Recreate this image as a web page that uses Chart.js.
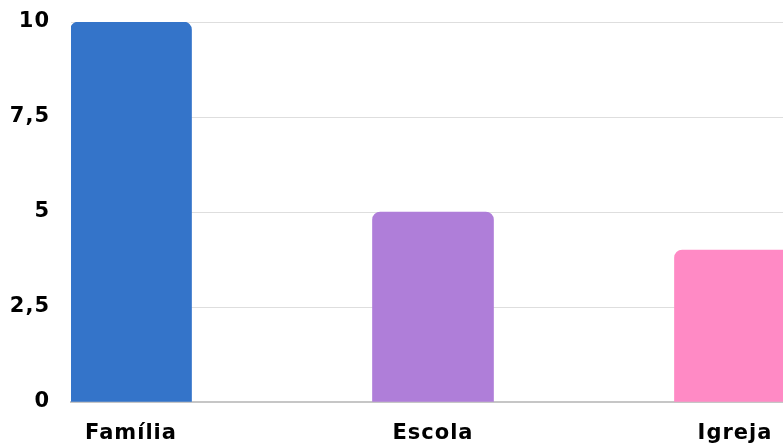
<!DOCTYPE html>
<html>
<head>
<meta charset="utf-8">
<script src="https://cdn.jsdelivr.net/npm/chart.js@4"></script>
<style>
  html, body { margin: 0; padding: 0; background: #ffffff; overflow: hidden; }
  #wrap { width: 783px; height: 447px; position: relative; }
</style>
</head>
<body>
<div id="wrap"><canvas id="grafico"></canvas></div>
<script>
// dados do gráfico
const categorias = ["Família", "Escola", "Igreja"];
const valores = [10, 5, 4];
const cores = ["#3474c9", "#af7ed9", "#ff8ac5"];
const ticksY = [0, 2.5, 5, 7.5, 10];

const fonte = { family: "'DejaVu Sans', sans-serif", size: 21, weight: "bold" };

const pontos = valores.map((v, i) => ({ x: i, y: v }));

// letras um pouco mais espaçadas, como no original
const espacamento = {
  id: "espacamento",
  beforeUpdate: (chart) => { chart.ctx.letterSpacing = "1px"; },
  beforeDraw: (chart) => { chart.ctx.letterSpacing = "1px"; },
};

const grafico = new Chart(document.getElementById("grafico"), {
  type: "bar",
  data: {
    datasets: [
      {
        data: pontos,
        backgroundColor: cores,
        borderWidth: 0,
        borderRadius: 8,
        barThickness: 121,
      },
    ],
  },
  plugins: [espacamento],
  options: {
    responsive: true,
    maintainAspectRatio: false,
    animation: false,
    layout: { padding: { top: 22, left: 0, right: 0, bottom: 0 } },
    plugins: { legend: { display: false }, tooltip: { enabled: false } },
    scales: {
      x: {
        type: "linear",
        offset: false,
        min: -0.1987,
        max: 2.159,
        grid: { display: false, drawTicks: false, offset: false },
        border: { display: true, color: "#c6c6c6", width: 2 },
        afterFit: (s) => { s.height = 45; s.paddingLeft = 0; s.paddingRight = 0; },
        ticks: {
          stepSize: 1,
          includeBounds: false,
          autoSkip: false,
          maxRotation: 0,
          padding: 19,
          color: "#000000",
          font: fonte,
          callback: (v) => (Number.isInteger(v) ? categorias[v] : ""),
        },
      },
      y: {
        min: 0,
        max: 10,
        grid: { color: "#dedede", lineWidth: 1, drawTicks: false },
        border: { display: false },
        afterFit: (s) => { s.width = 71; s.paddingTop = 0; s.paddingBottom = 0; },
        afterBuildTicks: (s) => { s.ticks = ticksY.map((v) => ({ value: v })); },
        ticks: {
          padding: 21,
          color: "#000000",
          font: fonte,
          callback: (v) => String(v).replace(".", ","),
        },
      },
    },
  },
});
</script>
</body>
</html>
